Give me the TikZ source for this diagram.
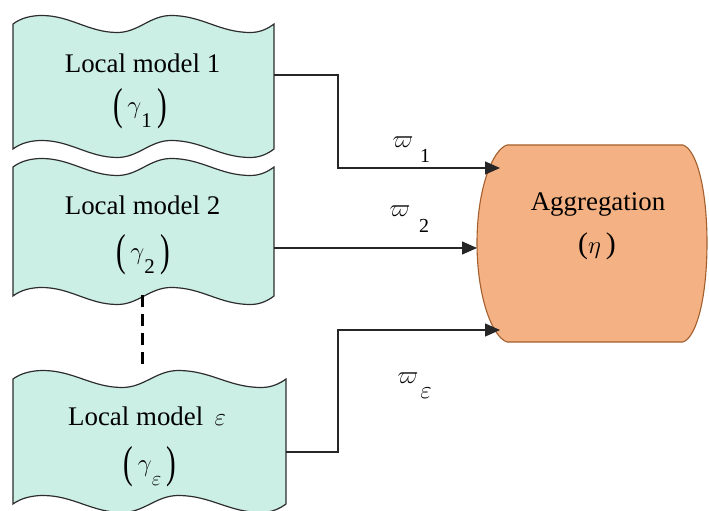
\documentclass[tikz,border=0pt]{standalone}
\usepackage{fontspec}
\setmainfont{Liberation Serif}
\usepackage{graphicx}
\usetikzlibrary{arrows.meta}
\definecolor{boxfill}{RGB}{204,239,229}
\definecolor{boxline}{RGB}{45,45,45}
\definecolor{aggfill}{RGB}{244,177,131}
\definecolor{aggline}{RGB}{165,95,45}
% tall thin parenthesis
\newcommand\tallparen[1]{{\fontsize{29}{29}\selectfont\raisebox{-6bp}{\scalebox{1}[1.55]{#1}}}}
% big parenthesised gamma with a low subscript
\newcommand\gampar[1]{{\fontsize{38}{38}\selectfont
  \tallparen{(}\hspace{0.12em}$\gamma$\raisebox{-14bp}{\fontsize{21}{21}\selectfont #1}\hspace{0.14em}\tallparen{)}}}
% wave from (L,y) to (L+W,y)
\newcommand\waveLR[3]{%
 .. controls ({#1+0.03*#2},{#3-6}) and ({#1+0.07*#2},{#3-8.5}) .. ({#1+0.11*#2},{#3-8.5})
 .. controls ({#1+0.22*#2},{#3-8.5}) and ({#1+0.29*#2},{#3+8.5}) .. ({#1+0.40*#2},{#3+8.5})
 .. controls ({#1+0.48*#2},{#3+8.5}) and ({#1+0.525*#2},{#3-8.5}) .. ({#1+0.605*#2},{#3-8.5})
 .. controls ({#1+0.725*#2},{#3-8.5}) and ({#1+0.79*#2},{#3+8.5}) .. ({#1+0.91*#2},{#3+8.5})
 .. controls ({#1+0.95*#2},{#3+8.5}) and ({#1+0.98*#2},{#3+4}) .. ({#1+#2},{#3})}
% wave from (L+W,y) back to (L,y)
\newcommand\waveRL[3]{%
 .. controls ({#1+0.98*#2},{#3+4}) and ({#1+0.95*#2},{#3+8.5}) .. ({#1+0.91*#2},{#3+8.5})
 .. controls ({#1+0.79*#2},{#3+8.5}) and ({#1+0.725*#2},{#3-8.5}) .. ({#1+0.605*#2},{#3-8.5})
 .. controls ({#1+0.525*#2},{#3-8.5}) and ({#1+0.48*#2},{#3+8.5}) .. ({#1+0.40*#2},{#3+8.5})
 .. controls ({#1+0.29*#2},{#3+8.5}) and ({#1+0.22*#2},{#3-8.5}) .. ({#1+0.11*#2},{#3-8.5})
 .. controls ({#1+0.07*#2},{#3-8.5}) and ({#1+0.03*#2},{#3-6}) .. ({#1},{#3})}
\begin{document}
\begin{tikzpicture}[x=1bp,y=-1bp,
  every node/.style={font=\fontsize{27}{32}\selectfont, inner sep=0pt},
  tapebox/.style={draw=boxline, fill=boxfill, line width=1.2bp},
  aggbox/.style={draw=aggline, fill=aggfill, line width=1.1bp},
  conn/.style={draw=black!85, line width=1.4bp},
  arr/.style={conn, -{Triangle[length=15bp,width=13bp]}},
  wlab/.style={font=\fontsize{31}{31}\selectfont},
  sub/.style={font=\fontsize{20}{20}\selectfont}]
\useasboundingbox (0,0) rectangle (709,511);

% local model boxes
\draw[tapebox] (13,24) \waveLR{13}{261}{24} -- (274,149) \waveRL{13}{261}{149} -- cycle;
\draw[tapebox] (13,167) \waveLR{13}{261}{167} -- (274,296) \waveRL{13}{261}{296} -- cycle;
\draw[tapebox] (13,379) \waveLR{13}{273}{379} -- (286,504) \waveRL{13}{273}{504} -- cycle;

\node (t1a) at (142.5,63) {Local model 1};
\node[anchor=base] (t1b) at (140,114) {\gampar{1}};
\node (t2a) at (142.5,205) {Local model 2};
\node[anchor=base] (t2b) at (143,260) {\gampar{2}};
\node (t3a) at (147,416) {Local model \,{\fontsize{30}{30}\selectfont$\varepsilon$}};
\node[anchor=base] (t3b) at (150,471) {\gampar{$\varepsilon$}};

% dashed continuation
\coordinate (d1) at (142,295);
\coordinate (d2) at (142,370);
\draw[line width=3bp, dash pattern=on 12bp off 7bp] (d1) -- (d2);

% aggregation
\draw[aggbox] (507,145) -- (683,145)
  .. controls (697,150) and (707,190) .. (707,243)
  .. controls (707,296) and (697,337) .. (683,342) -- (507,342)
  .. controls (492,337) and (477,296) .. (477,243)
  .. controls (477,190) and (492,150) .. (507,145) -- cycle;
\node (agg) at (598,204) {Aggregation};
\node (eta) at (597,246) {\fontsize{30}{30}\selectfont($\eta$\,)};

% connectors
\coordinate (o1) at (274,75);
\coordinate (k1) at (338,168);
\coordinate (i1) at (500,168);
\coordinate (o2) at (274,248);
\coordinate (i2) at (477,248);
\coordinate (o3) at (286,452);
\coordinate (k3) at (338,330);
\coordinate (i3) at (500,330);
\draw[arr] (o1) -| (k1) -- (i1);
\draw[arr] (o2) -- (i2);
\draw[arr] (o3) -| (k3) -- (i3);

% weights
\node[wlab] (w1) at (403,142) {$\varpi$};
\node[sub] (w1s) at (425,156) {1};
\node[wlab] (w2) at (400,211) {$\varpi$};
\node[sub] (w2s) at (424,226) {2};
\node[wlab] (w3) at (408,378) {$\varpi$};
\node[font=\fontsize{25}{25}\selectfont] (w3s) at (426,393) {$\varepsilon$};
\end{tikzpicture}
\end{document}
